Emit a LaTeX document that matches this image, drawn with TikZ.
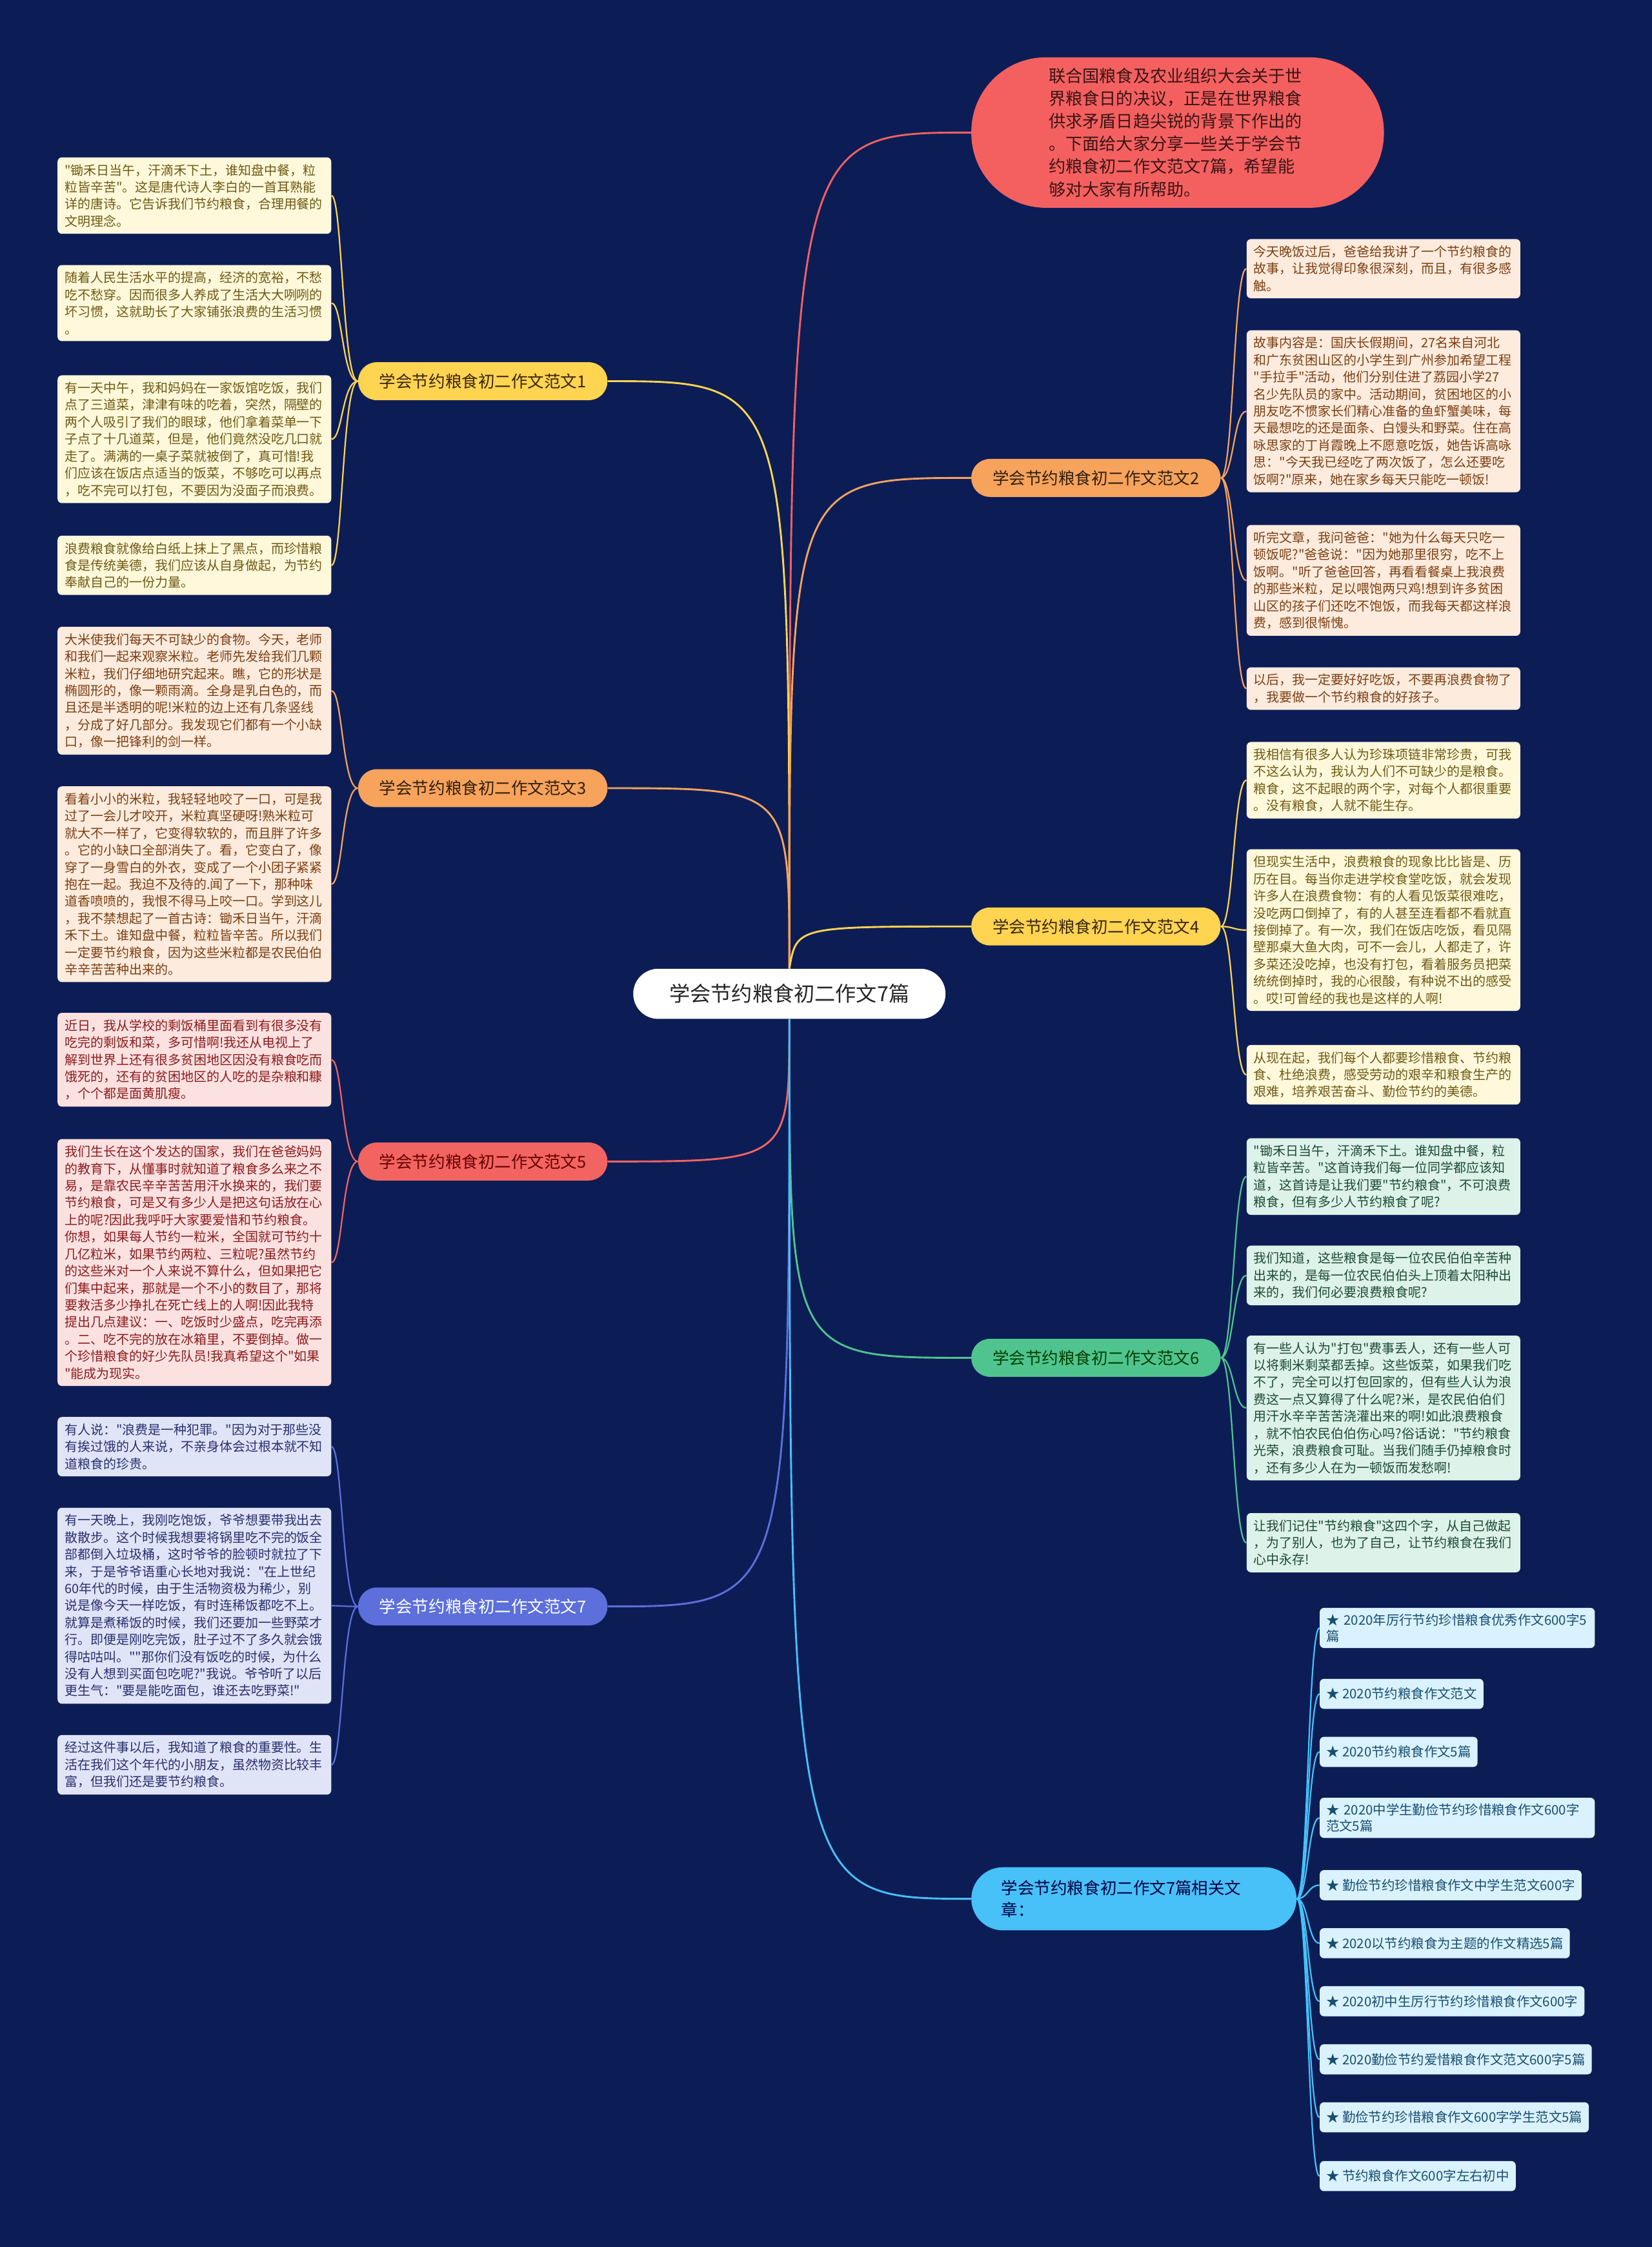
\documentclass[tikz,border=0pt]{standalone}
\usepackage{fontspec}
\setmainfont{Noto Sans CJK SC}[Ligatures=TeXOff]
\usetikzlibrary{backgrounds}
\definecolor{bgc}{HTML}{0C1D56}
\definecolor{cY}{HTML}{FFD450}
\definecolor{cO}{HTML}{F7A35C}
\definecolor{cR}{HTML}{F26461}
\definecolor{cG}{HTML}{4FC48F}
\definecolor{cB}{HTML}{5C6FDB}
\definecolor{cL}{HTML}{47C1F8}
\definecolor{cI}{HTML}{F46060}
\definecolor{fY}{HTML}{FFF8DA}\definecolor{tY}{HTML}{6E5A16}
\definecolor{fO}{HTML}{FDEBDD}\definecolor{tO}{HTML}{7B3F12}
\definecolor{fR}{HTML}{FCE1E1}\definecolor{tR}{HTML}{8C1C1C}
\definecolor{fG}{HTML}{DDF2E8}\definecolor{tG}{HTML}{1C4A38}
\definecolor{fB}{HTML}{E0E4F7}\definecolor{tB}{HTML}{28306E}
\definecolor{fL}{HTML}{D9F2FD}\definecolor{tL}{HTML}{1A4E70}
\definecolor{tI}{HTML}{3A1414}
\tikzset{
  leafbase/.style={rounded corners=3pt, align=left, text width=181pt, inner xsep=5pt, inner ysep=4.6pt, font=\fontsize{9}{11.9}\selectfont, anchor=west},
  lfY/.style={leafbase, fill=fY, text=tY},
  lfO/.style={leafbase, fill=fO, text=tO},
  lfR/.style={leafbase, fill=fR, text=tR},
  lfG/.style={leafbase, fill=fG, text=tG},
  lfB/.style={leafbase, fill=fB, text=tB},
  artbox/.style={rounded corners=3pt, align=left, inner xsep=4.5pt, inner ysep=4pt, minimum height=21pt, font=\fontsize{9.2}{11.5}\selectfont, anchor=west, fill=fL, text=tL},
  brbase/.style={rounded corners=13pt, minimum width=174pt, minimum height=26.5pt, inner sep=2pt, font=\fontsize{11.5}{14}\selectfont},
  mainedge/.style={line width=1.3pt},
  leafedge/.style={line width=1pt},
}
\begin{document}
\begin{tikzpicture}[x=1pt,y=-1pt]
\useasboundingbox (0,0) rectangle (1153,1568);

% ---------- root and topics ----------
\node[rounded corners=17.5pt, minimum width=218pt, minimum height=35pt, fill=white, text=black!85, font=\fontsize{14.5}{17}\selectfont] (root) at (551,693.5) {学会节约粮食初二作文7篇};

\node[rounded corners=52pt, minimum width=288pt, minimum height=105pt, fill=cI, text=tI, text width=180pt, align=left, font=\fontsize{11.8}{15.8}\selectfont] (intro) at (822,92.5) {联合国粮食及农业组织大会关于世\\界粮食日的决议，正是在世界粮食\\供求矛盾日趋尖锐的背景下作出的\\。下面给大家分享一些关于学会节\\约粮食初二作文范文7篇，希望能\\够对大家有所帮助。};

\node[brbase, fill=cY, text=black!70!brown] (b1) at (337,266) {学会节约粮食初二作文范文1};
\node[brbase, fill=cO, text=black!75!brown] (b2) at (765,333.5) {学会节约粮食初二作文范文2};
\node[brbase, fill=cO, text=black!75!brown] (b3) at (337,550) {学会节约粮食初二作文范文3};
\node[brbase, fill=cY, text=black!70!brown] (b4) at (765,646.5) {学会节约粮食初二作文范文4};
\node[brbase, fill=cR, text=black!60!red] (b5) at (337,810.5) {学会节约粮食初二作文范文5};
\node[brbase, fill=cG, text=black!75!green] (b6) at (765,947.5) {学会节约粮食初二作文范文6};
\node[brbase, fill=cB, text=white] (b7) at (337,1121) {学会节约粮食初二作文范文7};
\node[rounded corners=22pt, minimum width=227pt, minimum height=44pt, text width=185pt, align=left, inner sep=2pt, fill=cL, text=black!75!blue, font=\fontsize{11.5}{15}\selectfont] (b8) at (791.5,1325) {学会节约粮食初二作文7篇相关文\\章：};

% ---------- branch 1 ----------
\node[lfY] (l1a) at (40,136.5) {"锄禾日当午，汗滴禾下土，谁知盘中餐，粒\\粒皆辛苦"。这是唐代诗人李白的一首耳熟能\\详的唐诗。它告诉我们节约粮食，合理用餐的\\文明理念。};
\node[lfY] (l1b) at (40,211.5) {随着人民生活水平的提高，经济的宽裕，不愁\\吃不愁穿。因而很多人养成了生活大大咧咧的\\坏习惯，这就助长了大家铺张浪费的生活习惯\\。};
\node[lfY] (l1c) at (40,306.5) {有一天中午，我和妈妈在一家饭馆吃饭，我们\\点了三道菜，津津有味的吃着，突然，隔壁的\\两个人吸引了我们的眼球，他们拿着菜单一下\\子点了十几道菜，但是，他们竟然没吃几口就\\走了。满满的一桌子菜就被倒了，真可惜!我\\们应该在饭店点适当的饭菜，不够吃可以再点\\，吃不完可以打包，不要因为没面子而浪费。};
\node[lfY] (l1d) at (40,394.5) {浪费粮食就像给白纸上抹上了黑点，而珍惜粮\\食是传统美德，我们应该从自身做起，为节约\\奉献自己的一份力量。};

% ---------- branch 3 ----------
\node[lfO] (l3a) at (40,482) {大米使我们每天不可缺少的食物。今天，老师\\和我们一起来观察米粒。老师先发给我们几颗\\米粒，我们仔细地研究起来。瞧，它的形状是\\椭圆形的，像一颗雨滴。全身是乳白色的，而\\且还是半透明的呢!米粒的边上还有几条竖线\\，分成了好几部分。我发现它们都有一个小缺\\口，像一把锋利的剑一样。};
\node[lfO] (l3b) at (40,617) {看着小小的米粒，我轻轻地咬了一口，可是我\\过了一会儿才咬开，米粒真坚硬呀!熟米粒可\\就大不一样了，它变得软软的，而且胖了许多\\。它的小缺口全部消失了。看，它变白了，像\\穿了一身雪白的外衣，变成了一个小团子紧紧\\抱在一起。我迫不及待的.闻了一下，那种味\\道香喷喷的，我恨不得马上咬一口。学到这儿\\，我不禁想起了一首古诗：锄禾日当午，汗滴\\禾下土。谁知盘中餐，粒粒皆辛苦。所以我们\\一定要节约粮食，因为这些米粒都是农民伯伯\\辛辛苦苦种出来的。};

% ---------- branch 5 ----------
\node[lfR] (l5a) at (40,739.5) {近日，我从学校的剩饭桶里面看到有很多没有\\吃完的剩饭和菜，多可惜啊!我还从电视上了\\解到世界上还有很多贫困地区因没有粮食吃而\\饿死的，还有的贫困地区的人吃的是杂粮和糠\\，个个都是面黄肌瘦。};
\node[lfR] (l5b) at (40,881) {我们生长在这个发达的国家，我们在爸爸妈妈\\的教育下，从懂事时就知道了粮食多么来之不\\易，是靠农民辛辛苦苦用汗水换来的，我们要\\节约粮食，可是又有多少人是把这句话放在心\\上的呢?因此我呼吁大家要爱惜和节约粮食。\\你想，如果每人节约一粒米，全国就可节约十\\几亿粒米，如果节约两粒、三粒呢?虽然节约\\的这些米对一个人来说不算什么，但如果把它\\们集中起来，那就是一个不小的数目了，那将\\要救活多少挣扎在死亡线上的人啊!因此我特\\提出几点建议：一、吃饭时少盛点，吃完再添\\。二、吃不完的放在冰箱里，不要倒掉。做一\\个珍惜粮食的好少先队员!我真希望这个"如果\\"能成为现实。};

% ---------- branch 7 ----------
\node[lfB] (l7a) at (40,1009.5) {有人说："浪费是一种犯罪。"因为对于那些没\\有挨过饿的人来说，不亲身体会过根本就不知\\道粮食的珍贵。};
\node[lfB] (l7b) at (40,1120.5) {有一天晚上，我刚吃饱饭，爷爷想要带我出去\\散散步。这个时候我想要将锅里吃不完的饭全\\部都倒入垃圾桶，这时爷爷的脸顿时就拉了下\\来，于是爷爷语重心长地对我说："在上世纪\\60年代的时候，由于生活物资极为稀少，别\\说是像今天一样吃饭，有时连稀饭都吃不上。\\就算是煮稀饭的时候，我们还要加一些野菜才\\行。即便是刚吃完饭，肚子过不了多久就会饿\\得咕咕叫。""那你们没有饭吃的时候，为什么\\没有人想到买面包吃呢?"我说。爷爷听了以后\\更生气："要是能吃面包，谁还去吃野菜!"};
\node[lfB] (l7c) at (40,1231.5) {经过这件事以后，我知道了粮食的重要性。生\\活在我们这个年代的小朋友，虽然物资比较丰\\富，但我们还是要节约粮食。};

% ---------- branch 2 ----------
\node[lfO] (r2a) at (870,187.5) {今天晚饭过后，爸爸给我讲了一个节约粮食的\\故事，让我觉得印象很深刻，而且，有很多感\\触。};
\node[lfO] (r2b) at (870,287) {故事内容是：国庆长假期间，27名来自河北\\和广东贫困山区的小学生到广州参加希望工程\\"手拉手"活动，他们分别住进了荔园小学27\\名少先队员的家中。活动期间，贫困地区的小\\朋友吃不惯家长们精心准备的鱼虾蟹美味，每\\天最想吃的还是面条、白馒头和野菜。住在高\\咏思家的丁肖霞晚上不愿意吃饭，她告诉高咏\\思："今天我已经吃了两次饭了，怎么还要吃\\饭啊?"原来，她在家乡每天只能吃一顿饭!};
\node[lfO] (r2c) at (870,405) {听完文章，我问爸爸："她为什么每天只吃一\\顿饭呢?"爸爸说："因为她那里很穷，吃不上\\饭啊。"听了爸爸回答，再看看餐桌上我浪费\\的那些米粒，足以喂饱两只鸡!想到许多贫困\\山区的孩子们还吃不饱饭，而我每天都这样浪\\费，感到很惭愧。};
\node[lfO] (r2d) at (870,480.5) {以后，我一定要好好吃饭，不要再浪费食物了\\，我要做一个节约粮食的好孩子。};

% ---------- branch 4 ----------
\node[lfY] (r4a) at (870,544.5) {我相信有很多人认为珍珠项链非常珍贵，可我\\不这么认为，我认为人们不可缺少的是粮食。\\粮食，这不起眼的两个字，对每个人都很重要\\。没有粮食，人就不能生存。};
\node[lfY] (r4b) at (870,649) {但现实生活中，浪费粮食的现象比比皆是、历\\历在目。每当你走进学校食堂吃饭，就会发现\\许多人在浪费食物：有的人看见饭菜很难吃，\\没吃两口倒掉了，有的人甚至连看都不看就直\\接倒掉了。有一次，我们在饭店吃饭，看见隔\\壁那桌大鱼大肉，可不一会儿，人都走了，许\\多菜还没吃掉，也没有打包，看着服务员把菜\\统统倒掉时，我的心很酸，有种说不出的感受\\。哎!可曾经的我也是这样的人啊!};
\node[lfY] (r4c) at (870,750) {从现在起，我们每个人都要珍惜粮食、节约粮\\食、杜绝浪费，感受劳动的艰辛和粮食生产的\\艰难，培养艰苦奋斗、勤俭节约的美德。};

% ---------- branch 6 ----------
\node[lfG] (r6a) at (870,821) {"锄禾日当午，汗滴禾下土。谁知盘中餐，粒\\粒皆辛苦。"这首诗我们每一位同学都应该知\\道，这首诗是让我们要"节约粮食"，不可浪费\\粮食，但有多少人节约粮食了呢?};
\node[lfG] (r6b) at (870,890) {我们知道，这些粮食是每一位农民伯伯辛苦种\\出来的，是每一位农民伯伯头上顶着太阳种出\\来的，我们何必要浪费粮食呢?};
\node[lfG] (r6c) at (870,982.5) {有一些人认为"打包"费事丢人，还有一些人可\\以将剩米剩菜都丢掉。这些饭菜，如果我们吃\\不了，完全可以打包回家的，但有些人认为浪\\费这一点又算得了什么呢?米，是农民伯伯们\\用汗水辛辛苦苦浇灌出来的啊!如此浪费粮食\\，就不怕农民伯伯伤心吗?俗话说："节约粮食\\光荣，浪费粮食可耻。当我们随手仍掉粮食时\\，还有多少人在为一顿饭而发愁啊!};
\node[lfG] (r6d) at (870,1076.5) {让我们记住"节约粮食"这四个字，从自己做起\\，为了别人，也为了自己，让节约粮食在我们\\心中永存!};

% ---------- related articles ----------
\node[artbox, text width=183pt] (a1) at (921,1136) {★ 2020年厉行节约珍惜粮食优秀作文600字5\\篇};
\node[artbox] (a2) at (921,1182) {★ 2020节约粮食作文范文};
\node[artbox] (a3) at (921,1222.5) {★ 2020节约粮食作文5篇};
\node[artbox, text width=183pt] (a4) at (921,1268.5) {★ 2020中学生勤俭节约珍惜粮食作文600字\\范文5篇};
\node[artbox] (a5) at (921,1315.5) {★ 勤俭节约珍惜粮食作文中学生范文600字};
\node[artbox] (a6) at (921,1356) {★ 2020以节约粮食为主题的作文精选5篇};
\node[artbox] (a7) at (921,1396.5) {★ 2020初中生厉行节约珍惜粮食作文600字};
\node[artbox] (a8) at (921,1437) {★ 2020勤俭节约爱惜粮食作文范文600字5篇};
\node[artbox] (a9) at (921,1477.5) {★ 勤俭节约珍惜粮食作文600字学生范文5篇};
\node[artbox] (a10) at (921,1518.5) {★ 节约粮食作文600字左右初中};

% ---------- connectors ----------
\begin{pgfonlayer}{background}
\fill[bgc] (0,0) rectangle (1153,1568);
\draw[mainedge, cI] (root.north) .. controls (551,92.5) .. (intro.west);
\draw[mainedge, cY] (root.north) .. controls (551,266) .. (b1.east);
\draw[mainedge, cO] (root.north) .. controls (551,333.5) .. (b2.west);
\draw[mainedge, cO] (root.north) .. controls (551,550) .. (b3.east);
\draw[mainedge, cY] (root.north) .. controls (556,646.5) .. (b4.west);
\draw[mainedge, cR] (root.south) .. controls (551,810.5) .. (b5.east);
\draw[mainedge, cG] (root.south) .. controls (551,947.5) .. (b6.west);
\draw[mainedge, cB] (root.south) .. controls (551,1121) .. (b7.east);
\draw[mainedge, cL] (root.south) .. controls (551,1325) .. (b8.west);
\foreach \n/\y in {l1a/136.5, l1b/211.5, l1c/306.5, l1d/394.5}
  \draw[leafedge, cY] (b1.west) .. controls (239,266) and (239,\y) .. (\n.east);
\foreach \n/\y in {l3a/482, l3b/617}
  \draw[leafedge, cO] (b3.west) .. controls (239,550) and (239,\y) .. (\n.east);
\foreach \n/\y in {l5a/739.5, l5b/881}
  \draw[leafedge, cR] (b5.west) .. controls (239,810.5) and (239,\y) .. (\n.east);
\foreach \n/\y in {l7a/1009.5, l7b/1120.5, l7c/1231.5}
  \draw[leafedge, cB] (b7.west) .. controls (239,1121) and (239,\y) .. (\n.east);
\foreach \n/\y in {r2a/187.5, r2b/287, r2c/405, r2d/480.5}
  \draw[leafedge, cO] (b2.east) .. controls (861,333.5) and (861,\y) .. (\n.west);
\foreach \n/\y in {r4a/544.5, r4b/649, r4c/750}
  \draw[leafedge, cY] (b4.east) .. controls (861,646.5) and (861,\y) .. (\n.west);
\foreach \n/\y in {r6a/821, r6b/890, r6c/982.5, r6d/1076.5}
  \draw[leafedge, cG] (b6.east) .. controls (861,947.5) and (861,\y) .. (\n.west);
\foreach \n/\y in {a1/1136, a2/1182, a3/1222.5, a4/1268.5, a5/1315.5, a6/1356, a7/1396.5, a8/1437, a9/1477.5, a10/1518.5}
  \draw[leafedge, cL] (b8.east) .. controls (913,1325) and (913,\y) .. (\n.west);
\end{pgfonlayer}
\end{tikzpicture}
\end{document}
